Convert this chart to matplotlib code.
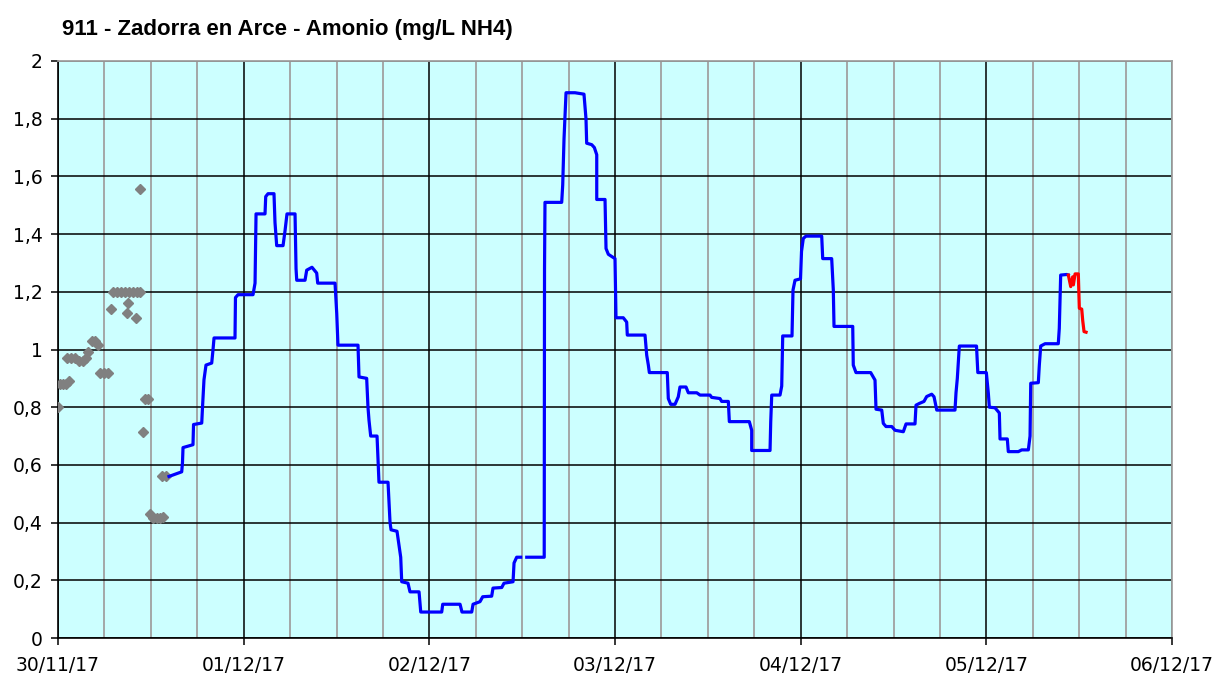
import numpy as np
import matplotlib
matplotlib.use("Agg")
import matplotlib.pyplot as plt

# hours since 30/11/17 00:00
title = "911 - Zadorra en Arce - Amonio (mg/L NH4)"
day_labels = ["30/11/17", "01/12/17", "02/12/17", "03/12/17", "04/12/17", "05/12/17", "06/12/17"]
y_labels = ["0", "0,2", "0,4", "0,6", "0,8", "1", "1,2", "1,4", "1,6", "1,8", "2"]

# old sensor readings (grey diamonds)
pts_h = [0.0, 0.26, 0.65, 1.03, 1.42, 1.16, 1.68, 2.2, 2.71, 3.23, 3.62, 3.88, 4.4, 4.78,
         5.17, 5.43, 5.95, 6.46, 6.85, 7.1, 7.63, 8.14, 8.66, 9.18, 9.7, 10.2, 10.6,
         8.88, 9.05, 10.08, 10.6, 11.03, 11.25, 11.63, 11.9, 12.28, 12.8, 13.19, 13.57,
         13.44, 13.96]
pts_v = [0.80, 0.88, 0.88, 0.88, 0.89, 0.97, 0.97, 0.97, 0.96, 0.96, 0.97, 0.99, 1.03, 1.03,
         1.015, 0.92, 0.92, 0.92, 1.14, 1.20, 1.20, 1.20, 1.20, 1.20, 1.20, 1.20, 1.20,
         1.125, 1.16, 1.11, 1.556, 0.715, 0.83, 0.83, 0.43, 0.415, 0.415, 0.415, 0.42,
         0.56, 0.56]

# validated series (blue), NaN marks the small gap
blue_h = [14.35, 15.99, 16.09, 16.16, 17.45, 17.52, 18.58, 18.68, 18.87, 19.13, 19.87, 20.04,
          20.17, 22.88, 22.94, 23.27, 25.21, 25.47, 25.6, 26.76, 26.85, 27.15, 27.92, 28.05,
          28.27, 29.09, 29.34, 29.6, 30.64, 30.77, 30.86, 31.93, 32.15, 32.83, 33.44, 33.57,
          35.81, 36.03, 36.19, 38.78, 38.91, 39.9, 40.07, 40.2, 40.42, 41.24, 41.49, 42.66,
          42.92, 43.05, 43.82, 44.08, 44.3, 44.43, 45.24, 45.5, 46.67, 46.89, 49.6, 49.73,
          51.97, 52.22, 53.48, 53.65, 54.55, 54.9, 56.06, 56.23, 57.36, 57.65, 58.82, 58.95,
          59.29, 59.81, 60.2, 60.59, 62.85, 62.89, 62.95, 65.11, 65.24, 65.41, 65.67, 66.83,
          67.99, 68.25, 68.34, 68.99, 69.33, 69.64, 69.64, 70.71, 70.84, 71.14, 72.0, 72.13,
          73.07, 73.51, 73.59, 75.88, 76.1, 76.31, 76.44, 78.76, 78.89, 79.2, 79.76, 80.18,
          80.4, 81.18, 81.48, 82.57, 82.99, 84.28, 84.5, 85.57, 85.79, 86.65, 86.78, 89.36,
          89.67, 89.67, 92.04, 92.13, 92.26, 93.33, 93.55, 93.68, 94.88, 95.01, 95.27, 95.98,
          96.11, 96.34, 96.69, 98.72, 98.85, 100.01, 100.22, 100.31, 102.73, 102.8, 103.15,
          105.05, 105.61, 105.74, 106.48, 106.68, 107.03, 107.77, 108.2, 109.27, 109.62,
          110.78, 110.91, 111.34, 111.94, 112.29, 112.94, 113.24, 113.59, 115.95, 116.08,
          116.25, 116.51, 118.73, 118.9, 120.0, 120.26, 120.39, 121.12, 121.68, 121.77,
          122.71, 122.84, 124.14, 124.57, 125.43, 125.65, 125.74, 126.72, 126.85, 127.03,
          127.59, 129.3, 129.43, 129.61, 130.39, 130.6]
blue_v = [0.56, 0.576, 0.607, 0.66, 0.67, 0.74, 0.745, 0.80, 0.895, 0.946, 0.953, 1.0,
          1.04, 1.04, 1.18, 1.19, 1.19, 1.23, 1.47, 1.47, 1.53, 1.54, 1.54, 1.44,
          1.36, 1.36, 1.41, 1.47, 1.47, 1.28, 1.24, 1.24, 1.275, 1.285, 1.265, 1.23,
          1.23, 1.125, 1.015, 1.015, 0.905, 0.90, 0.80, 0.755, 0.70, 0.70, 0.54, 0.54,
          0.40, 0.375, 0.37, 0.32, 0.28, 0.195, 0.19, 0.16, 0.16, 0.09, 0.09, 0.117,
          0.117, 0.09, 0.09, 0.117, 0.126, 0.143, 0.145, 0.173, 0.175, 0.19, 0.195, 0.26,
          0.28, 0.28, np.nan, 0.28, 0.28, 1.28, 1.51, 1.51, 1.57, 1.73, 1.89, 1.89,
          1.885, 1.80, 1.715, 1.71, 1.70, 1.675, 1.52, 1.52, 1.35, 1.33, 1.315, 1.11,
          1.11, 1.095, 1.05, 1.05, 0.98, 0.946, 0.92, 0.92, 0.83, 0.81, 0.81, 0.836,
          0.87, 0.87, 0.85, 0.85, 0.842, 0.842, 0.834, 0.83, 0.82, 0.82, 0.75, 0.75,
          0.72, 0.65, 0.65, 0.75, 0.842, 0.842, 0.873, 1.047, 1.047, 1.206, 1.24, 1.245,
          1.34, 1.385, 1.393, 1.393, 1.315, 1.315, 1.206, 1.08, 1.08, 0.946, 0.92,
          0.92, 0.894, 0.793, 0.79, 0.744, 0.733, 0.733, 0.72, 0.715, 0.742,
          0.742, 0.807, 0.813, 0.82, 0.837, 0.845, 0.836, 0.79, 0.79, 0.85,
          0.90, 1.012, 1.012, 0.92, 0.92, 0.848, 0.80, 0.798, 0.78, 0.69,
          0.69, 0.646, 0.646, 0.652, 0.652, 0.70, 0.883, 0.885, 0.946, 1.012,
          1.02, 1.02, 1.073, 1.258, 1.26, 1.258]

# provisional tail (red)
red_h = [130.6, 130.91, 131.17, 131.25, 131.47, 131.89, 132.02, 132.33, 132.46, 132.63, 132.89]
red_v = [1.258, 1.218, 1.252, 1.224, 1.262, 1.262, 1.143, 1.14, 1.10, 1.062, 1.06]

fig = plt.figure(figsize=(12.17, 6.73), dpi=100)
ax = fig.add_axes([58 / 1217, 1 - 638 / 673, (1172 - 58) / 1217, (638 - 61) / 673])
ax.set_facecolor("#ccffff")

ax.set_xlim(0, 144)
ax.set_ylim(0, 2)
ax.set_xticks(np.arange(0, 145, 24))
ax.set_xticklabels(day_labels)
ax.set_xticks(np.arange(0, 145, 6), minor=True)
ax.set_yticks(np.arange(0, 2.01, 0.2))
ax.set_yticklabels(y_labels)

ax.grid(which="minor", axis="x", color="#a0a0a0", lw=1.3, zorder=0)
ax.grid(which="major", color="black", lw=1.1, zorder=0)
ax.set_axisbelow(True)

ax.tick_params(which="minor", length=0)
ax.tick_params(which="major", length=5, width=1.1, direction="out", color="black")
ax.tick_params(axis="y", pad=6)
ax.tick_params(axis="x", pad=8)
for lab in ax.get_xticklabels() + ax.get_yticklabels():
    lab.set_fontsize(13.5)
    lab.set_family("DejaVu Sans")

for s in ["left", "bottom"]:
    ax.spines[s].set_color("black")
    ax.spines[s].set_linewidth(1.2)
for s in ["top", "right"]:
    ax.spines[s].set_color("#a0a0a0")
    ax.spines[s].set_linewidth(1.3)

ax.plot(pts_h, pts_v, linestyle="none", marker="D", markersize=5.5, color="#808080", zorder=3)
ax.plot(blue_h, blue_v, color="#0000ff", lw=2.3, zorder=4)
ax.plot(red_h, red_v, color="#ff0000", lw=2.3, zorder=4)

fig.text(62 / 1217, 1 - 29 / 673, title, fontsize=16, fontweight="bold",
         family="Liberation Sans", ha="left", va="center")

fig.savefig("out.png", dpi=100, facecolor="white")
